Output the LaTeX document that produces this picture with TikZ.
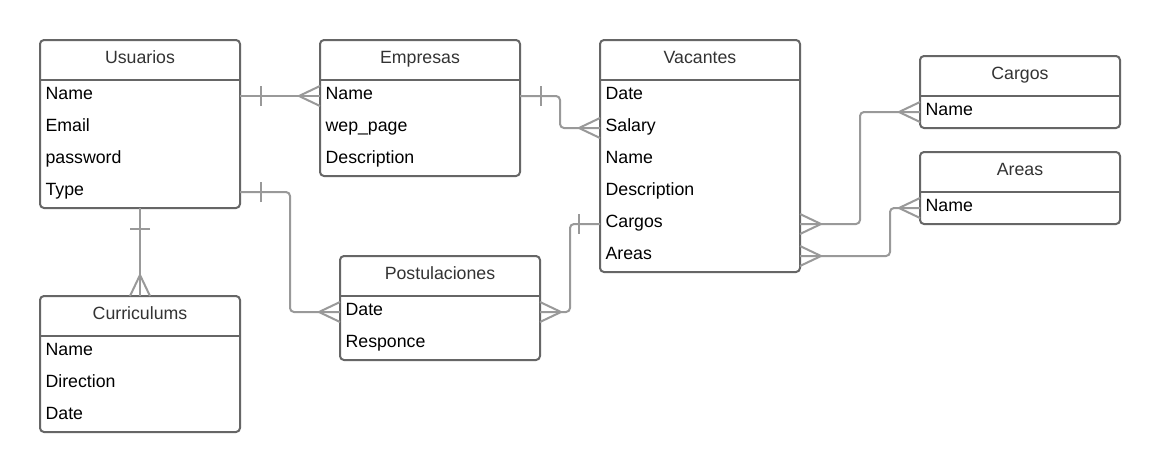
\documentclass[tikz,border=0pt]{standalone}
\usepackage{fontspec}
\setmainfont{Liberation Sans}
\usetikzlibrary{calc}
\definecolor{boxc}{HTML}{666666}
\definecolor{linkc}{HTML}{999999}
\definecolor{titlec}{HTML}{333333}
\newcommand\crowfoot[3]{\draw[link,sharp corners] ($(#1)+(#3*10,#2*10)$) -- ($(#1)+(#2*21,#3*21)$) -- ($(#1)-(#3*10,#2*10)$);}
\newcommand\onebar[3]{\draw[link,sharp corners] ($(#1)+(#2*21,#3*21)+(#3*10,#2*10)$) -- ($(#1)+(#2*21,#3*21)-(#3*10,#2*10)$);}
\tikzset{
  ebox/.style={draw=boxc, line width=1.5pt, rounded corners=3pt, anchor=north west,
    minimum width=150pt, inner sep=0pt, outer sep=0pt},
  sepline/.style={draw=boxc, line width=1.5pt},
  title/.style={font=\fontsize{13.3pt}{15pt}\selectfont, text=titlec, inner sep=0pt,
    text height=8.4pt, text depth=3.5pt},
  row/.style={font=\fontsize{13.3pt}{15pt}\selectfont, text=black, inner sep=0pt, anchor=west,
    text height=8.4pt, text depth=3.5pt},
  link/.style={draw=linkc, line width=1.5pt, rounded corners=3pt},
}
\begin{document}
\begin{tikzpicture}[x=0.75pt,y=-0.75pt]
\useasboundingbox[fill=white] (0,0) rectangle (1160,472);

% Usuarios
\node[ebox, minimum height=126pt] (usuarios) at (40,40) {};
\draw[sepline] ([yshift=-30pt]usuarios.north west) -- ([yshift=-30pt]usuarios.north east);
\node[title] (usuarios-t) at ([yshift=-15pt]usuarios.north) {Usuarios};
\node[row] (usuarios-1) at ([xshift=4pt,yshift=-42pt]usuarios.north west) {Name};
\node[row] (usuarios-2) at ([xshift=4pt,yshift=-66pt]usuarios.north west) {Email};
\node[row] (usuarios-3) at ([xshift=4pt,yshift=-90pt]usuarios.north west) {password};
\node[row] (usuarios-4) at ([xshift=4pt,yshift=-114pt]usuarios.north west) {Type};

% Empresas
\node[ebox, minimum height=102pt] (empresas) at (320,40) {};
\draw[sepline] ([yshift=-30pt]empresas.north west) -- ([yshift=-30pt]empresas.north east);
\node[title] (empresas-t) at ([yshift=-15pt]empresas.north) {Empresas};
\node[row] (empresas-1) at ([xshift=4pt,yshift=-42pt]empresas.north west) {Name};
\node[row] (empresas-2) at ([xshift=4pt,yshift=-66pt]empresas.north west) {wep\_page};
\node[row] (empresas-3) at ([xshift=4pt,yshift=-90pt]empresas.north west) {Description};

% Vacantes
\node[ebox, minimum height=174pt] (vacantes) at (600,40) {};
\draw[sepline] ([yshift=-30pt]vacantes.north west) -- ([yshift=-30pt]vacantes.north east);
\node[title] (vacantes-t) at ([yshift=-15pt]vacantes.north) {Vacantes};
\node[row] (vacantes-1) at ([xshift=4pt,yshift=-42pt]vacantes.north west) {Date};
\node[row] (vacantes-2) at ([xshift=4pt,yshift=-66pt]vacantes.north west) {Salary};
\node[row] (vacantes-3) at ([xshift=4pt,yshift=-90pt]vacantes.north west) {Name};
\node[row] (vacantes-4) at ([xshift=4pt,yshift=-114pt]vacantes.north west) {Description};
\node[row] (vacantes-5) at ([xshift=4pt,yshift=-138pt]vacantes.north west) {Cargos};
\node[row] (vacantes-6) at ([xshift=4pt,yshift=-162pt]vacantes.north west) {Areas};

% Cargos
\node[ebox, minimum height=54pt] (cargos) at (920,56) {};
\draw[sepline] ([yshift=-30pt]cargos.north west) -- ([yshift=-30pt]cargos.north east);
\node[title] (cargos-t) at ([yshift=-15pt]cargos.north) {Cargos};
\node[row] (cargos-1) at ([xshift=4pt,yshift=-42pt]cargos.north west) {Name};

% Areas
\node[ebox, minimum height=54pt] (areas) at (920,152) {};
\draw[sepline] ([yshift=-30pt]areas.north west) -- ([yshift=-30pt]areas.north east);
\node[title] (areas-t) at ([yshift=-15pt]areas.north) {Areas};
\node[row] (areas-1) at ([xshift=4pt,yshift=-42pt]areas.north west) {Name};

% Curriculums
\node[ebox, minimum height=102pt] (curriculums) at (40,296) {};
\draw[sepline] ([yshift=-30pt]curriculums.north west) -- ([yshift=-30pt]curriculums.north east);
\node[title] (curriculums-t) at ([yshift=-15pt]curriculums.north) {Curriculums};
\node[row] (curriculums-1) at ([xshift=4pt,yshift=-42pt]curriculums.north west) {Name};
\node[row] (curriculums-2) at ([xshift=4pt,yshift=-66pt]curriculums.north west) {Direction};
\node[row] (curriculums-3) at ([xshift=4pt,yshift=-90pt]curriculums.north west) {Date};

% Postulaciones
\node[ebox, minimum height=78pt] (postulaciones) at (340,256) {};
\draw[sepline] ([yshift=-30pt]postulaciones.north west) -- ([yshift=-30pt]postulaciones.north east);
\node[title] (postulaciones-t) at ([yshift=-15pt]postulaciones.north) {Postulaciones};
\node[row] (postulaciones-1) at ([xshift=4pt,yshift=-42pt]postulaciones.north west) {Date};
\node[row] (postulaciones-2) at ([xshift=4pt,yshift=-66pt]postulaciones.north west) {Responce};

% Connector end points
\coordinate (c1a) at (usuarios.east |- usuarios-1);
\coordinate (c1b) at (empresas.west |- empresas-1);
\coordinate (c2a) at (empresas.east |- empresas-1);
\coordinate (c2b) at (vacantes.west |- vacantes-2);
\coordinate (c3a) at (usuarios.east |- usuarios-4);
\coordinate (c3b) at (postulaciones.west |- postulaciones-1);
\coordinate (c4a) at (usuarios.south);
\coordinate (c4b) at (curriculums.north);
\coordinate (c5a) at (vacantes.west |- vacantes-5);
\coordinate (c5b) at (postulaciones.east |- postulaciones-1);
\coordinate (c6a) at (vacantes.east |- vacantes-5);
\coordinate (c6b) at (cargos.west |- cargos-1);
\coordinate (c7a) at (vacantes.east |- vacantes-6);
\coordinate (c7b) at (areas.west |- areas-1);

% Usuarios - Empresas
\draw[link] (c1a) -- (c1b);
\onebar{c1a}{1}{0}
\crowfoot{c1b}{-1}{0}
% Empresas - Vacantes
\draw[link] (c2a) -| ([xshift=-30pt]c2b) -- (c2b);
\onebar{c2a}{1}{0}
\crowfoot{c2b}{-1}{0}
% Usuarios - Postulaciones
\draw[link] (c3a) -| ([xshift=-37.5pt]c3b) -- (c3b);
\onebar{c3a}{1}{0}
\crowfoot{c3b}{-1}{0}
% Usuarios - Curriculums
\draw[link] (c4a) -- (c4b);
\onebar{c4a}{0}{1}
\crowfoot{c4b}{0}{-1}
% Vacantes - Postulaciones
\draw[link] (c5a) -- ([xshift=-22.5pt]c5a) |- (c5b);
\onebar{c5a}{-1}{0}
\crowfoot{c5b}{1}{0}
% Vacantes - Cargos
\draw[link] (c6a) -| ([xshift=-45pt]c6b) -- (c6b);
\crowfoot{c6a}{1}{0}
\crowfoot{c6b}{-1}{0}
% Vacantes - Areas
\draw[link] (c7a) -| ([xshift=-22.5pt]c7b) -- (c7b);
\crowfoot{c7a}{1}{0}
\crowfoot{c7b}{-1}{0}
\end{tikzpicture}
\end{document}
